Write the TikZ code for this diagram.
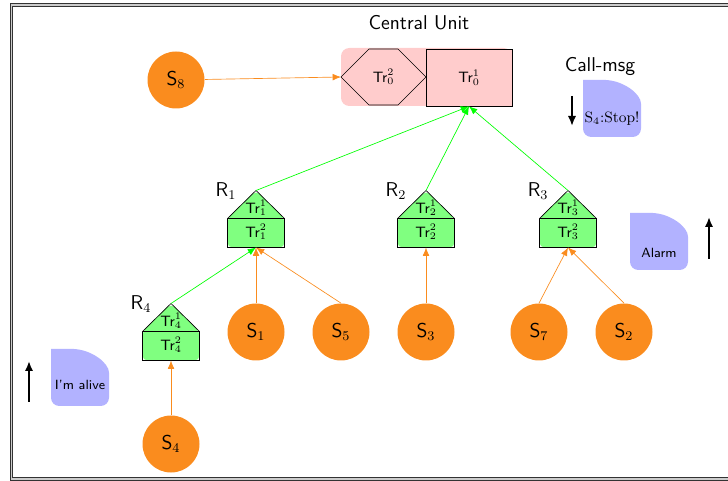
\documentclass[tikz,border=0pt]{standalone}
\usetikzlibrary{calc,arrows.meta}
\renewcommand{\familydefault}{\sfdefault}
\definecolor{sensor}{RGB}{250,140,30}
\begin{document}
\begin{tikzpicture}[x=0.6pt,y=-0.6pt]
	\tikzstyle{every node}+=[inner sep=0pt]
	\tikzstyle{sens}=[circle, fill=sensor, minimum size=34.2pt, font=\large]
	\tikzstyle{up}=[sensor, -{Latex[length=5pt,width=4pt]}]
	\tikzstyle{link}=[green, -{Latex[length=5pt,width=4pt]}]
	\tikzstyle{sig}=[line width=1.2pt, -{Latex[length=6pt,width=5pt]}]
	\tikzstyle{msg}=[fill=blue!30]
	\useasboundingbox (0,0) rectangle (728,481);
	\clip (0,0) rectangle (728,481);
	% frame
	\draw[draw=black!80, double=black!20, double distance=1pt, line width=0.5pt] (11.5,5) rectangle (740,479);
	% central unit
	\node[font=\large] (cu) at (419,23) {Central Unit};
	\fill[red!20, rounded corners=5pt] (341,48) rectangle (512,106);
	\node[draw, fill=red!20, minimum width=51.6pt, minimum height=34.2pt, font=\small] (tr01) at (469,77.5) {Tr$_0^1$};
	\coordinate (tr02w) at (341,77);
	\draw (tr02w) -- (369,49) -- (398,49) -- (426,77) -- (398,105) -- (369,105) -- cycle;
	\node[font=\small] (tr02) at (383.5,77) {Tr$_0^2$};
	% sensors
	\node[sens] (s8) at (176,80) {S$_8$};
	\foreach \n/\x/\y in {1/256/332, 5/341/332, 3/426/332, 7/539/332, 2/624/332, 4/171/444}
		\node[sens] (s\n) at (\x,\y) {S$_\n$};
	% relays
	\foreach \i/\x/\y in {1/256/233, 2/426/233, 3/568/233, 4/171/346} {
		\coordinate (r\i) at (\x,\y);
		\fill[green!50, rounded corners=3pt] ($(r\i)+(-28.5,14.5)$) -- ++(0,-29) -- ++(28.5,-28) -- ++(28.5,28) -- ++(0,29) -- cycle;
		\draw ($(r\i)+(-28.5,14.5)$) -- ++(0,-29) -- ++(28.5,-28) -- ++(28.5,28) -- ++(0,29) -- cycle;
		\draw ($(r\i)+(-28.5,-14.5)$) -- ++(57,0);
		\node[font=\small] (tra\i) at ($(r\i)+(0,-25)$) {Tr$_\i^1$};
		\node[font=\small] (trb\i) at ($(r\i)+(0,-1)$) {Tr$_\i^2$};
		\node[font=\large] (lab\i) at ($(r\i)+(-30,-42)$) {R$_\i$};
		\coordinate (top\i) at ($(r\i)+(0,-42.5)$);
		\coordinate (bot\i) at ($(r\i)+(0,14.5)$);
	}
	% links
	\draw[up] (s8) -- (tr02w);
	\foreach \r in {1,2,3}
		\draw[link] (top\r) -- (tr01.south);
	\draw[link] (top4) -- (bot1);
	\foreach \s/\r in {1/1, 5/1, 3/2, 7/3, 2/3, 4/4}
		\draw[up] (s\s.north) -- (bot\r);
	% messages
	\foreach \x/\y in {583/80, 630/213, 51/349}
		\fill[msg, shift={(\x,\y)}] (0,30) [rounded corners=5pt] -- (0,57) -- (58,57) -- (58,32) [sharp corners] .. controls (58,14) and (41,1) .. (23,0) -- (0,0) -- cycle;
	\node[font=\large] (callmsg) at (600,67) {Call-msg};
	\node[font=\rmfamily\small] (stop) at (612,119) {S$_4$:Stop!};
	\node[font=\footnotesize] (alarm) at (659,253) {Alarm};
	\node[font=\footnotesize] (alive) at (80,385) {I'm alive};
	\coordinate (d1) at (572,96);
	\coordinate (d2) at (572,126);
	\draw[sig] (d1) -- (d2);
	\coordinate (a1) at (709,259);
	\coordinate (a2) at (709,217);
	\draw[sig] (a1) -- (a2);
	\coordinate (l1) at (29,402);
	\coordinate (l2) at (29,361);
	\draw[sig] (l1) -- (l2);
\end{tikzpicture}
\end{document}
